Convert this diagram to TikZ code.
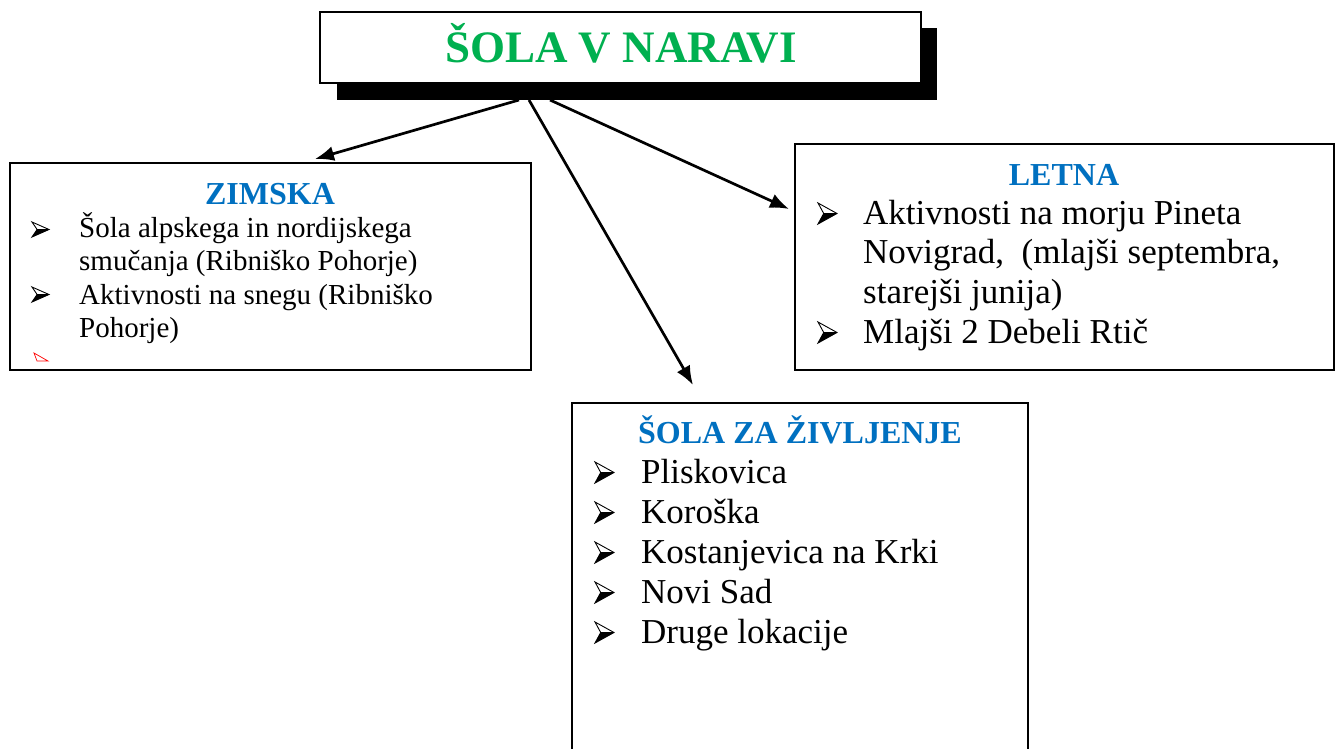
\documentclass[tikz,border=0pt]{standalone}
\usepackage{fontspec}
\setmainfont{Liberation Serif}
\usetikzlibrary{arrows.meta}
\definecolor{titlegreen}{HTML}{00B050}
\definecolor{headblue}{HTML}{0070C0}
\tikzset{
  boxframe/.style={draw=black, line width=2pt, fill=white, inner sep=0pt, outer sep=0pt, anchor=north west},
  linetxt/.style={anchor=base west, inner sep=0pt, text=black},
  smalltxt/.style={linetxt, font=\fontsize{29}{33}\selectfont},
  bigtxt/.style={linetxt, font=\fontsize{35}{40}\selectfont},
  headtxt/.style={anchor=base, inner sep=0pt, text=headblue, font=\bfseries\fontsize{32}{36}\selectfont},
  arr/.style={line width=2.7pt, -{Latex[length=19pt,width=15pt]}},
  pics/arrowbul/.style n args={2}{code={
    \fill[black] (0,{#2/2}) -- ({#1},0) -- ({0.3*#1},0) -- cycle;
    \draw[black, line width=0.9pt, line join=miter] (0,{-#2/2}) -- ({#1},0) -- (0,{#2/2}) -- ({0.3*#1},0) -- cycle;
    \draw[black, line width=0.7pt] ({0.3*#1},0) -- ({#1},0);
  }}
}
\begin{document}
\begin{tikzpicture}[x=1pt,y=-1pt]
\clip (0,0) rectangle (1341,749);
\fill[white] (0,0) rectangle (1341,749);

% title
\node[fill=black, inner sep=0pt, outer sep=0pt, anchor=north west, minimum width=600pt, minimum height=72pt] (shadow) at (337,28) {};
\node[boxframe, minimum width=601pt, minimum height=71pt] (titlebox) at (320,12) {};
\node[anchor=base, inner sep=0pt, text=titlegreen, font=\bfseries\fontsize{45}{50}\selectfont] (titletext) at (621,63) {ŠOLA V NARAVI};

% boxes
\node[boxframe, minimum width=521pt, minimum height=207pt] (zimska) at (10,163) {};
\node[boxframe, minimum width=539pt, minimum height=226pt] (letna) at (795,144) {};
\node[boxframe, minimum width=456pt, minimum height=420pt] (zivljenje) at (572,403) {};

% ZIMSKA
\node[headtxt] (zhead) at (270,204) {ZIMSKA};
\pic at (32,229.5) {arrowbul={17}{15}};
\node[smalltxt] (z1) at (79,237) {Šola alpskega in nordijskega};
\node[smalltxt] (z2) at (79,270) {smučanja (Ribniško Pohorje)};
\pic at (32,294.5) {arrowbul={17}{15}};
\node[smalltxt] (z3) at (79,304) {Aktivnosti na snegu (Ribniško};
\node[smalltxt] (z4) at (79,337) {Pohorje)};
\draw[red, line width=0.7pt] (34,353) -- (48,361) -- (37,361) -- cycle;

% LETNA
\node[headtxt] (lhead) at (1064,185) {LETNA};
\pic at (818,213.5) {arrowbul={19}{21}};
\node[bigtxt] (l1) at (863,224) {Aktivnosti na morju Pineta};
\node[bigtxt] (l2) at (863,263) {Novigrad,\ \ (mlajši septembra,};
\node[bigtxt] (l3) at (863,303) {starejši junija)};
\pic at (818,332.5) {arrowbul={19}{21}};
\node[bigtxt] (l4) at (863,343) {Mlajši 2 Debeli Rtič};

% ŠOLA ZA ŽIVLJENJE
\node[headtxt] (shead) at (800,443) {ŠOLA ZA ŽIVLJENJE};
\foreach \i/\y/\t in {1/483/Pliskovica, 2/523/Koroška, 3/563/Kostanjevica na Krki, 4/603/Novi Sad, 5/643/Druge lokacije}{
  \pic at (595,\y-10.5) {arrowbul={19}{21}};
  \node[bigtxt] (s\i) at (641,\y) {\t};
}

% arrows
\coordinate (s1) at (519,100);
\coordinate (s2) at (529,100);
\coordinate (s3) at (550,100);
\coordinate (t1) at (315,159);
\coordinate (t2) at (693,385);
\coordinate (t3) at (789,209);
\draw[arr] (s1) -- (t1);
\draw[arr] (s2) -- (t2);
\draw[arr] (s3) -- (t3);
\end{tikzpicture}
\end{document}
